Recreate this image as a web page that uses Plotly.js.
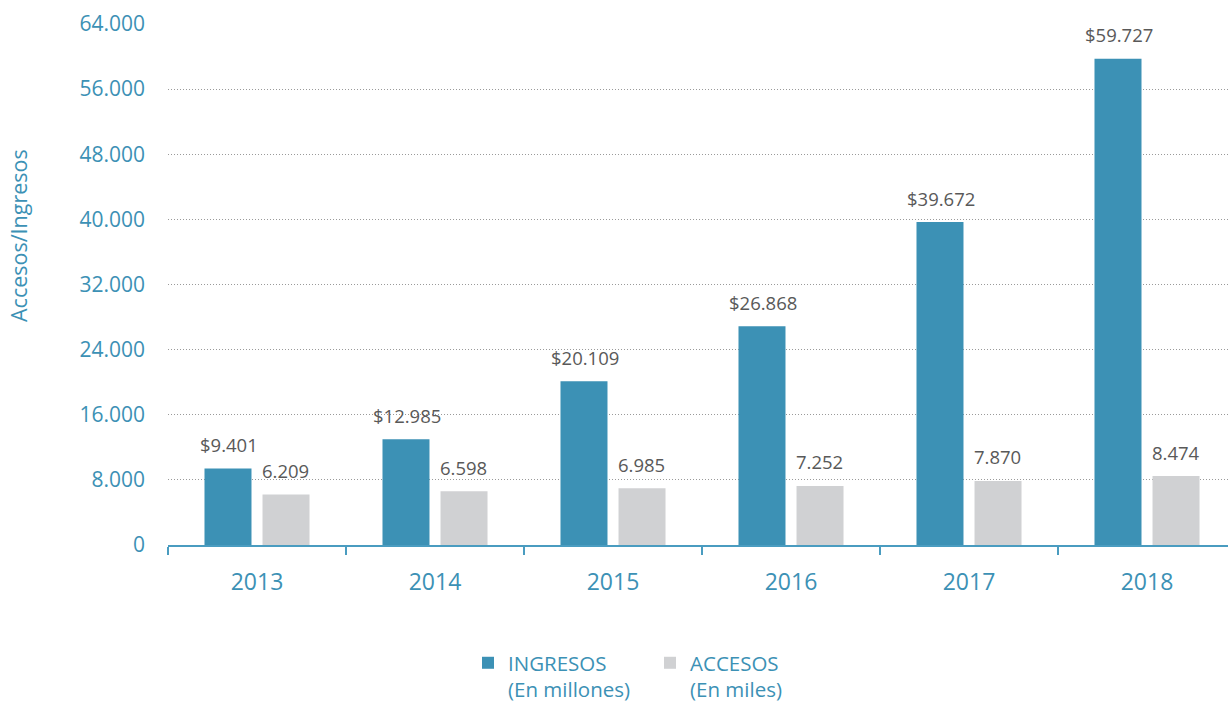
<!DOCTYPE html>
<html>
<head>
<meta charset="utf-8">
<script src="https://cdn.plot.ly/plotly-3.0.1.min.js"></script>
<style>
html,body{margin:0;padding:0;background:#fff;overflow:hidden;}
#chart{width:1228px;height:704px;}
</style>
</head>
<body>
<div id="chart"></div>
<script>
const years = ['2013','2014','2015','2016','2017','2018'];
const ingresos = [9401, 12985, 20109, 26868, 39672, 59727];
const accesos = [6209, 6598, 6985, 7252, 7870, 8474];
const yTicks = [0, 8000, 16000, 24000, 32000, 40000, 48000, 56000, 64000];

const TEAL = '#3c91b5';
const GRAY = '#d0d1d3';
const FONT = 'Open Sans';

function fmt(n){
  return String(n).replace(/\B(?=(\d{3})+(?!\d))/g, '.');
}

const traces = [
  {type:'bar', x: years, y: ingresos, name:'INGRESOS<br>(En millones)',
   marker:{color:TEAL}, hoverinfo:'none'},
  {type:'bar', x: years, y: accesos, name:'ACCESOS<br>(En miles)',
   marker:{color:GRAY}, hoverinfo:'none'}
];

const annotations = [];
years.forEach((yr,i)=>{
  annotations.push({x:i, y:ingresos[i], xref:'x', yref:'y', text:'&#36;'+fmt(ingresos[i]),
    showarrow:false, xanchor:'center', yanchor:'middle', yshift:24, xshift:-28.5,
    font:{family:FONT, size:18.5, color:'#595959'}});
  annotations.push({x:i, y:accesos[i], xref:'x', yref:'y', text:fmt(accesos[i]),
    showarrow:false, xanchor:'center', yanchor:'middle', yshift:24, xshift:28.5,
    font:{family:FONT, size:18.5, color:'#595959'}});
});
annotations.push({xref:'paper', yref:'paper', x:(19-168)/1060, y:(545-236)/521,
  text:'Accesos/Ingresos', textangle:-90, showarrow:false, xanchor:'center', yanchor:'middle',
  font:{family:FONT, size:21.5, color:TEAL}});

const layout = {
  width:1228, height:704,
  margin:{l:168, r:0, t:24, b:159, autoexpand:false},
  paper_bgcolor:'#fff', plot_bgcolor:'#fff',
  separators:',.',
  barmode:'group', bargap:0.348, bargroupgap:0.19,
  font:{family:FONT, color:TEAL},
  showlegend:true,
  legend:{orientation:'h', x:(468-168)/1060, xanchor:'left', y:-0.188, yanchor:'top',
    valign:'top', entrywidth:137, font:{family:FONT, size:20.5, color:TEAL}, traceorder:'normal'},
  xaxis:{type:'category', range:[-0.5, 5.455], showgrid:false, zeroline:false,
    showline:true, linecolor:'#4a9cc0', linewidth:2,
    ticks:'outside', tickson:'boundaries', ticklen:8, tickwidth:2, tickcolor:'#4a9cc0',
    ticklabelstandoff:15,
    tickfont:{family:FONT, size:23, color:TEAL}},
  yaxis:{range:[0,64000], tickvals:yTicks, tickformat:',', showline:false, zeroline:false,
    showgrid:true, gridcolor:'#9a9a9a', gridwidth:1, griddash:'1px,2px',
    ticks:'', ticklabelstandoff:22,
    tickfont:{family:FONT, size:21, color:TEAL}},
  annotations: annotations
};

Plotly.newPlot('chart', traces, layout, {staticPlot:true});
</script>
</body>
</html>
